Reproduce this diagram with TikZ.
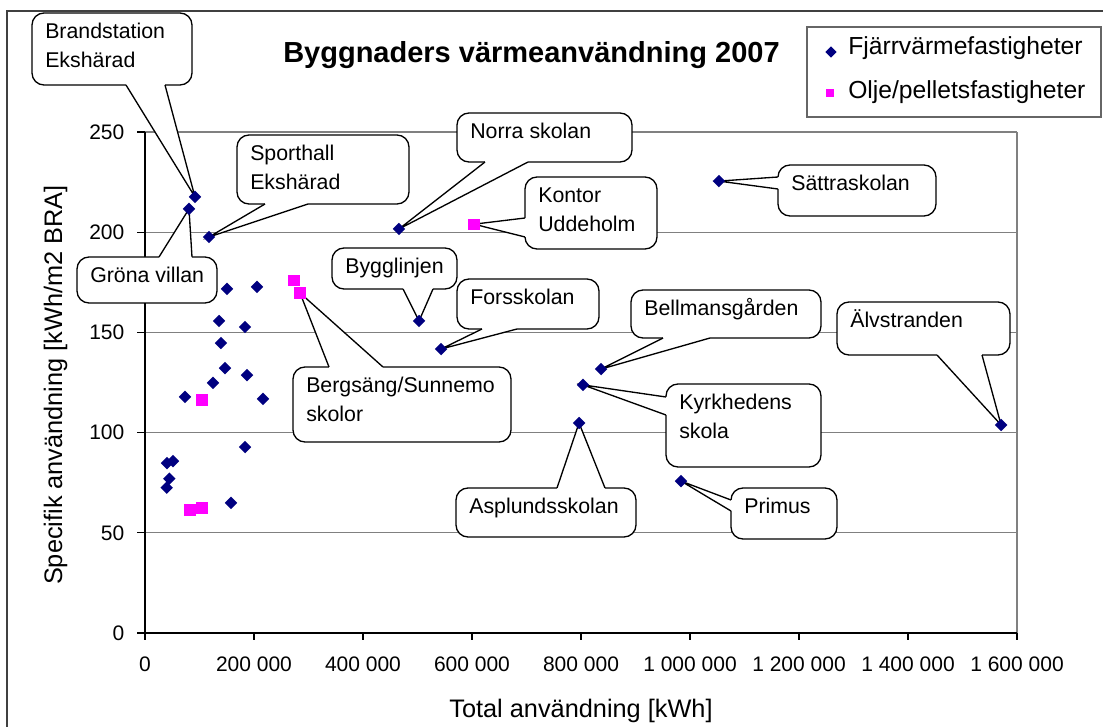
\documentclass[tikz,border=0pt]{standalone}
\usepackage{fontspec}
\setmainfont{Liberation Sans}
\usetikzlibrary{shapes.geometric}

\definecolor{fjvblue}{RGB}{0,0,128}
\definecolor{pelletpink}{RGB}{255,0,255}

% callout: name, top left, width, height, text
\newcommand{\callout}[5]{%
    \node[callbox, minimum width=#3*0.75pt, minimum height=#4*0.75pt] (#1) at #2 {};
    \node[calltext] (#1-t) at ([shift={(13,6.3)}]#1.north west) {\rule{0pt}{14pt}#5};
}
% pointer of a callout: box, anchor, base start, base end, tip
\newcommand{\pointer}[5]{%
    \fill[white] ([shift={#3}]#1.#2) -- (#5) -- ([shift={#4}]#1.#2) -- cycle;
    \draw[white, line width=1.6pt] ([shift={#3}]#1.#2) -- ([shift={#4}]#1.#2);
    \draw[callline] ([shift={#3}]#1.#2) -- (#5) -- ([shift={#4}]#1.#2);
}

\begin{document}
\begin{tikzpicture}[x=0.75pt, y=-0.75pt,
    gridline/.style={gray, line width=1pt},
    axisline/.style={black, line width=1pt},
    ticklabel/.style={font=\fontsize{15.75pt}{18pt}\selectfont, inner sep=0pt},
    axistitle/.style={font=\fontsize{19pt}{22pt}\selectfont, inner sep=0pt},
    legtext/.style={font=\fontsize{18.5pt}{22pt}\selectfont, inner sep=0pt, anchor=base west},
    callbox/.style={draw, fill=white, line width=1pt, rounded corners=9pt,
        inner sep=0pt, outer sep=0pt, anchor=north west},
    calltext/.style={font=\fontsize{16pt}{21.75pt}\selectfont, align=left,
        inner sep=0pt, anchor=north west},
    callline/.style={line width=1pt, line join=miter},
    fjv/.style={diamond, fill=fjvblue, inner sep=0pt, minimum size=9.5pt},
    pellet/.style={rectangle, fill=pelletpink, inner sep=0pt, minimum size=8.5pt}]

    \path[use as bounding box, fill=white] (0,0) rectangle (1103,727);

    % Chart frame
    \draw[black!75, line width=1.1pt] (7,11) rectangle (1115,740);

    % Title
    \node[font=\bfseries\fontsize{21.75pt}{26pt}\selectfont, inner sep=0pt, anchor=base west]
        (title) at (283,63) {Byggnaders värmeanvändning 2007};

    % Legend
    \draw[black!60, line width=1pt] (807,27) rectangle (1101,117);
    \node[fjv, minimum size=8.5pt] (leg1m) at (831,52) {};
    \node[legtext] (leg1) at (848,55) {Fjärrvärmefastigheter};
    \node[pellet, minimum size=6.5pt] (leg2m) at (830,93) {};
    \node[legtext] (leg2) at (848,99) {Olje/pelletsfastigheter};

    \begin{scope}[shift={(145,633)}, x=0.40875pt, y=1.503pt]
        % Grid
        \foreach \y in {50,100,...,250}
            \draw[gridline] (0,\y) -- (1600,\y);
        \draw[gridline, line width=1.5pt] (1600,0) -- (1600,250);

        % Axes
        \draw[axisline] (0,250) -- (0,0) -- (1600,0);
        \foreach \y in {0,50,...,250}
            \draw[axisline] (0,\y) -- ++(-6pt,0) node[ticklabel, left=9pt] (yt\y) {\y};
        \foreach \x/\lab in {0/0, 200/200 000, 400/400 000, 600/600 000, 800/800 000,
                1000/1 000 000, 1200/1 200 000, 1400/1 400 000, 1600/1 600 000}
            \draw[axisline] (\x,0) -- ++(0,-5.25pt)
                node[ticklabel, anchor=base, yshift=-23.25pt] (xt\x) {\lab};

        % Named buildings (kWh in thousands, kWh/m2)
        \coordinate (brand) at (91.7,217.6);
        \coordinate (grona) at (80.7,211.6);
        \coordinate (sport) at (117.4,197.6);
        \coordinate (norra) at (466,201.6);
        \coordinate (kontor) at (603.7,204);
        \coordinate (sattra) at (1053,225.5);
        \coordinate (bygg) at (502.8,155.7);
        \coordinate (fors) at (543.2,141.7);
        \coordinate (bellman) at (836.8,131.7);
        \coordinate (kyrk) at (803.7,123.8);
        \coordinate (asplund) at (796.4,104.8);
        \coordinate (primus) at (983.5,75.8);
        \coordinate (alv) at (1570.8,103.8);
        \coordinate (berg) at (284.4,169.7);

        % Other buildings
        \foreach \k/\s [count=\i] in {150.5/171.7, 205.5/172.7, 135.8/155.7, 183.5/152.7,
                139.4/144.7, 146.8/132.2, 187.2/128.7, 124.8/124.8, 73.4/117.8, 216.5/116.8,
                183.5/92.8, 40.4/84.8, 51.4/85.8, 44.6/77, 39.8/72.5, 157.8/64.9}
            \node[fjv] (f\i) at (\k,\s) {};
        \foreach \k/\s [count=\i] in {273.4/176, 104.6/116.3, 82.6/61.4, 104.6/62.4}
            \node[pellet] (p\i) at (\k,\s) {};
    \end{scope}

    % Axis titles
    \node[axistitle, anchor=base] (xtitle) at (581,717) {Total användning [kWh]};
    \node[axistitle, rotate=90, anchor=base] (ytitle) at (62,385)
        {Specifik användning [kWh/m2 BRA]};

    % Callouts
    \callout{bsbox}{(32,13)}{160}{72}{Brandstation\\Ekshärad}
    \pointer{bsbox}{south west}{(94,0)}{(133,0)}{brand}
    \callout{grbox}{(77,257)}{140}{46}{Gröna villan}
    \pointer{grbox}{north west}{(82,0)}{(115,0)}{grona}
    \callout{spbox}{(237,135)}{172}{69}{Sporthall\\Ekshärad}
    \pointer{spbox}{south west}{(28,0)}{(71,0)}{sport}
    \callout{nsbox}{(457,113)}{175}{49}{Norra skolan}
    \pointer{nsbox}{south west}{(28,0)}{(71,0)}{norra}
    \callout{kubox}{(525,177)}{132}{72}{Kontor\\Uddeholm}
    \pointer{kubox}{north west}{(0,41)}{(0,60)}{kontor}
    \callout{sabox}{(778,165)}{158}{51}{Sättraskolan}
    \pointer{sabox}{north west}{(0,12)}{(0,24)}{sattra}
    \callout{bybox}{(332,248)}{125}{41}{Bygglinjen}
    \pointer{bybox}{south west}{(71,0)}{(101,0)}{bygg}
    \callout{fsbox}{(457,279)}{142}{50}{Forsskolan}
    \pointer{fsbox}{south west}{(25,0)}{(60,0)}{fors}
    \callout{bgbox}{(631,290)}{190}{48}{Bellmansgården}
    \pointer{bgbox}{south west}{(32,0)}{(79,0)}{bellman}
    \callout{kybox}{(666,384)}{155}{83}{Kyrkhedens\\skola}
    \pointer{kybox}{north west}{(0,13)}{(0,31)}{kyrk}
    \callout{asbox}{(456,488)}{180}{49}{Asplundsskolan}
    \pointer{asbox}{north west}{(101,0)}{(149,0)}{asplund}
    \callout{prbox}{(731,488)}{106}{51}{Primus}
    \pointer{prbox}{north west}{(0,12)}{(0,23)}{primus}
    \callout{avbox}{(837,302)}{173}{53}{Älvstranden}
    \pointer{avbox}{south west}{(100,0)}{(145,0)}{alv}
    \callout{bebox}{(293,367)}{218}{75}{Bergsäng/Sunnemo\\skolor}
    \pointer{bebox}{north west}{(36,0)}{(90,0)}{berg}

    % Markers of the named buildings
    \foreach \p in {brand,grona,sport,norra,sattra,bygg,fors,bellman,kyrk,asplund,primus,alv}
        \node[fjv] (\p-m) at (\p) {};
    \foreach \p in {kontor,berg}
        \node[pellet] (\p-m) at (\p) {};
\end{tikzpicture}
\end{document}
